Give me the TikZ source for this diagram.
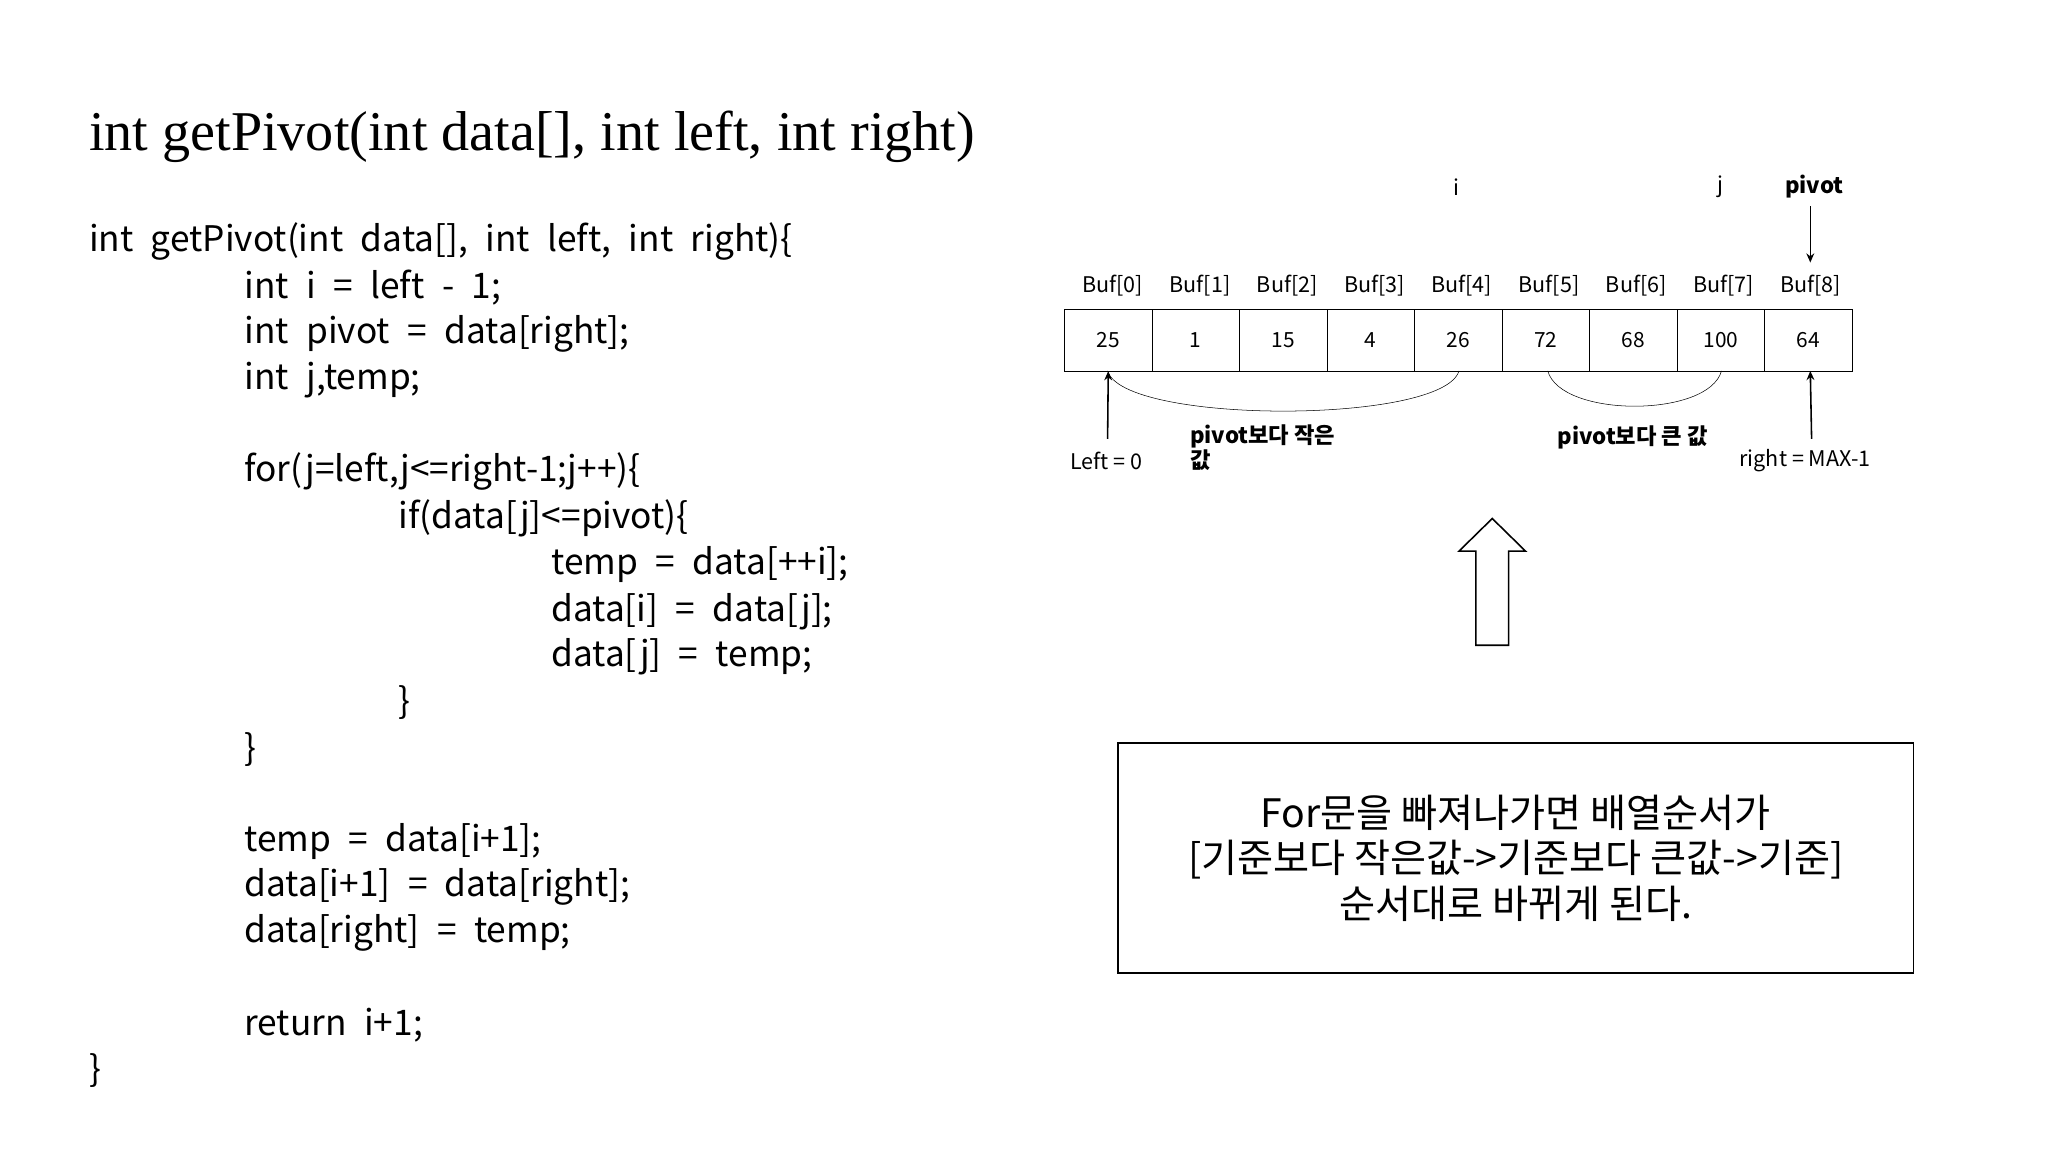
\documentclass[tikz,border=0pt]{standalone}
\usepackage{fontspec}
\usetikzlibrary{arrows.meta}
\setmainfont{Noto Sans CJK KR}
\newfontfamily\codefont[WordSpace=2.2]{Noto Sans CJK KR}
\newfontfamily\titlefont{Liberation Serif}
\begin{document}
\begin{tikzpicture}[x=1pt,y=-1pt,
  code/.style={anchor=west,inner sep=0,font=\codefont\fontsize{27}{30}\selectfont},
  cell/.style={draw,minimum width=67pt,minimum height=47pt,inner sep=0,font=\fontsize{16}{18}\selectfont},
  lbl/.style={inner sep=0,font=\fontsize{16.5}{18}\selectfont},
  blbl/.style={inner sep=0,font=\fontsize{17}{18}\selectfont\bfseries},
  arr/.style={-{Stealth[length=7pt,width=6pt]},line width=1.2pt}]
\useasboundingbox (0,0) rectangle (1568,882);
\node[anchor=west,inner sep=0,font=\titlefont\fontsize{43}{48}\selectfont] (title) at (68,105) {int getPivot(int data[], int left, int right)};
\foreach \t/\x/\y [count=\k] in {
 {int getPivot(int data[], int left, int right)\{}/68/185,
 {int i = left - 1;}/187/220,
 {int pivot = data[right];}/187/256,
 {int j,temp;}/187/291,
 {for(j=left,j<=right-1;j++)\{}/187/361,
 {if(data[j]<=pivot)\{}/305/397,
 {temp = data[++i];}/422/432,
 {data[i] = data[j];}/422/468,
 {data[j] = temp;}/422/503,
 {\}}/305/538,
 {\}}/187/574,
 {temp = data[i+1];}/187/644,
 {data[i+1] = data[right];}/187/679,
 {data[right] = temp;}/187/714,
 {return i+1;}/187/785,
 {\}}/68/820}
 \node[code] (c\k) at (\x,\y) {\t};
\foreach \v [count=\k from 0] in {25,1,15,4,26,72,68,100,64}{
 \node[cell] (b\k) at ({848.5+67*\k},260.5) {\v};
 \node[lbl] (l\k) at ({852+66.8*\k},219) {Buf[\k]};
}
\node[lbl] (i) at (1115,143) {i};
\node[lbl] (j) at (1317,143) {j};
\node[blbl] (pv) at (1389,143) {pivot};
\coordinate (pa) at (1386,158);
\coordinate (pb) at (1386,201);
\draw[arr] (pa) -- (pb);
\node[lbl] (left) at (847,353) {Left = 0};
\node[lbl] (right) at (1382,353) {right = MAX-1};
\coordinate (la) at (848,336);
\draw[arr] (la) -- (b0.south);
\coordinate (ra) at (1387,336);
\coordinate (rb) at (1386,284);
\draw[arr] (ra) -- (rb);
\draw (848,284) .. controls (860,325) and (1105,325) .. (1117,284);
\draw (1185,284) .. controls (1195,320) and (1308,320) .. (1318,284);
\node[blbl,align=left,anchor=north west,font=\fontsize{17}{19}\selectfont\bfseries] (small) at (911,325) {pivot보다 작은\\값};
\node[blbl] (big) at (1250,335) {pivot보다 큰 값};
\draw[line width=1.2pt] (1130,494) -- (1130,422) -- (1117,422) -- (1142.5,397) -- (1168,422) -- (1155,422) -- (1155,494) -- cycle;
\node[draw,line width=1.2pt,minimum width=609pt,minimum height=176pt,align=center,
 font=\fontsize{30}{35}\selectfont] (box) at (1160.5,657) {For문을 빠져나가면 배열순서가\\{}[기준보다 작은값->기준보다 큰값->기준]\\순서대로 바뀌게 된다.};
\end{tikzpicture}
\end{document}
